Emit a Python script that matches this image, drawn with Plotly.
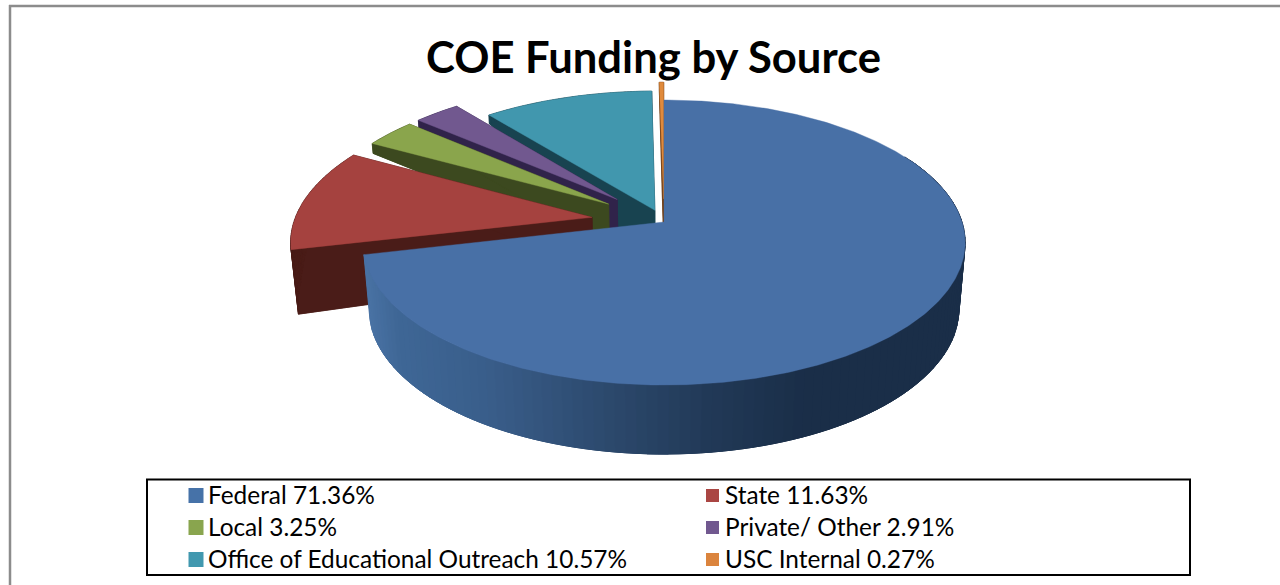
import numpy as np
import plotly.graph_objects as go

# ---- data ----
categories = ["Federal", "State", "Local", "Private/ Other",
              "Office of Educational Outreach", "USC Internal"]
shares = [71.36, 11.63, 3.25, 2.91, 10.57, 0.27]
title_text = "COE Funding by Source"

# ---- styles ----
top_colors = ["#4870a6", "#a5423f", "#8aa54c", "#71588f", "#4197ae", "#e08a3c"]
wall_colors = ["#1a2e48", "#4a1c18", "#3c491f", "#30234a", "#184350", "#6e3d14"]
legend_colors = ["#4672a8", "#aa4643", "#89a54e", "#71588f", "#4198af", "#db843d"]
explode = [0.0, 0.245, 0.23, 0.23, 0.09, 0.17]
draw_order = [4, 5, 3, 2, 1, 0]

# perspective of the tilted pie on the page
CX, CY, A, K, P = 664.0, 222.0, 298.0, 0.144, 107.6
FONT = "Lato, Carlito, Calibri, sans-serif"


def project(u, v):
    w = 1 + K * v
    return CX + A * u / w, (CY - P * v) / w


def lower(u, v):
    """Same point on the lower face of the pie."""
    x, y = project(u, v)
    depth = np.interp(v, [-1.0, -0.3, 0.0, 0.15, 0.3, 0.6, 1.0],
                      [69, 67, 60, 42, 30, 10, 8])
    return CX + (x - CX) * (1 - 0.02 * depth / 65), y + depth


def poly(x, y, color, width=0.6):
    return go.Scatter(x=list(x), y=list(y), mode="lines", fill="toself",
                      fillcolor=color, line=dict(color=color, width=width),
                      hoverinfo="skip", showlegend=False)


def mix(stops, t):
    pos = [s[0] for s in stops]
    rgb = [np.interp(t, pos, [int(s[1][i:i + 2], 16) for s in stops]) for i in (1, 3, 5)]
    return "rgb(%d,%d,%d)" % tuple(rgb)


gradient = [(370, "#4a73a5"), (400, "#3f6796"), (480, "#3a5f8c"), (600, "#2d4a6e"),
            (700, "#223a58"), (800, "#1a2e48"), (970, "#1a2e48")]

edges = np.concatenate([[0], np.cumsum(shares) / sum(shares) * 2 * np.pi])
fig = go.Figure()

for i in draw_order:
    a0, a1 = edges[i], edges[i + 1]
    mid = (a0 + a1) / 2
    du, dv = explode[i] * np.sin(mid), explode[i] * np.cos(mid)
    t = np.linspace(a0, a1, max(4, int((a1 - a0) * 90)))
    u = np.concatenate([[du], du + np.sin(t), [du]])
    v = np.concatenate([[dv], dv + np.cos(t), [dv]])
    if i == 0:
        # outer wall with a left-to-right shading; strips overlap to hide seams
        s = np.linspace(np.radians(60), a1, 110)
        step = s[1] - s[0]
        for a, b in zip(s[:-1], s[1:]):
            if a > np.radians(180):
                a = a - step * 1.0
            else:
                b = min(b + step * 1.0, a1)
            ua, va, ub, vb = np.sin(a), np.cos(a), np.sin(b), np.cos(b)
            x0, y0 = project(ua, va)
            x1, y1 = project(ub, vb)
            x2, y2 = lower(ub, vb)
            x3, y3 = lower(ua, va)
            xm = (x2 + x3) / 2
            fig.add_trace(go.Scatter(
                x=[x0, x1, x2, x3, x0], y=[y0, y1, y2, y3, y0], mode="lines",
                fill="toself", fillcolor=mix(gradient, xm),
                line=dict(color=mix(gradient, xm), width=1.0),
                hoverinfo="skip", showlegend=False))
    else:
        # dark walls: the lower face and every edge dropped onto it
        lx, ly = lower(u, v)
        fig.add_trace(poly(lx, ly, wall_colors[i]))
        tx, ty = project(u, v)
        for k in range(len(u) - 1):
            fig.add_trace(poly([tx[k], tx[k + 1], lx[k + 1], lx[k], tx[k]],
                               [ty[k], ty[k + 1], ly[k + 1], ly[k], ty[k]],
                               wall_colors[i]))
    tx, ty = project(u, v)
    fig.add_trace(poly(tx, ty, top_colors[i], 0.4))

# legend: two columns, three rows
notes = []
for idx, (name, val, col) in enumerate(zip(categories, shares, legend_colors)):
    c, r = idx % 2, idx // 2
    fig.add_trace(go.Scatter(
        x=[(196, 712.5)[c]], y=[495.5 + r * 32], mode="markers",
        marker=dict(symbol="square", size=(15, 13)[c], color=col),
        hoverinfo="skip", showlegend=False))
    notes.append(dict(x=(206, 722.5)[c], y=494 + r * 32, xref="x", yref="y",
                      text="%s %.2f%%" % (name, val), showarrow=False,
                      xanchor="left", yanchor="middle",
                      font=dict(family=FONT, size=24.4, color="#000000")))

fig.update_layout(
    width=1280, height=585, autosize=False,
    margin=dict(l=0, r=0, t=0, b=0),
    paper_bgcolor="#ffffff", plot_bgcolor="#ffffff",
    showlegend=False,
    annotations=notes,
    title=dict(text="<b>%s</b>" % title_text, x=653.5 / 1280, xanchor="center",
               y=1 - 58 / 585, yanchor="middle",
               font=dict(family=FONT, size=43.6, color="#000000")),
    xaxis=dict(range=[0, 1280], visible=False, fixedrange=True),
    yaxis=dict(range=[585, 0], visible=False, fixedrange=True),
    shapes=[
        dict(type="rect", xref="x", yref="y", x0=147, x1=1190, y0=479.5, y1=575,
             line=dict(color="#000000", width=2), layer="below"),
        dict(type="line", xref="x", yref="y", x0=9, x1=1280, y0=6, y1=6,
             line=dict(color="#8c8c8c", width=2.5)),
        dict(type="line", xref="x", yref="y", x0=10, x1=10, y0=5, y1=585,
             line=dict(color="#8c8c8c", width=2.5)),
    ],
)

fig.write_html("out.html", post_script="document.body.style.margin='0';",
               config={"displayModeBar": False})
